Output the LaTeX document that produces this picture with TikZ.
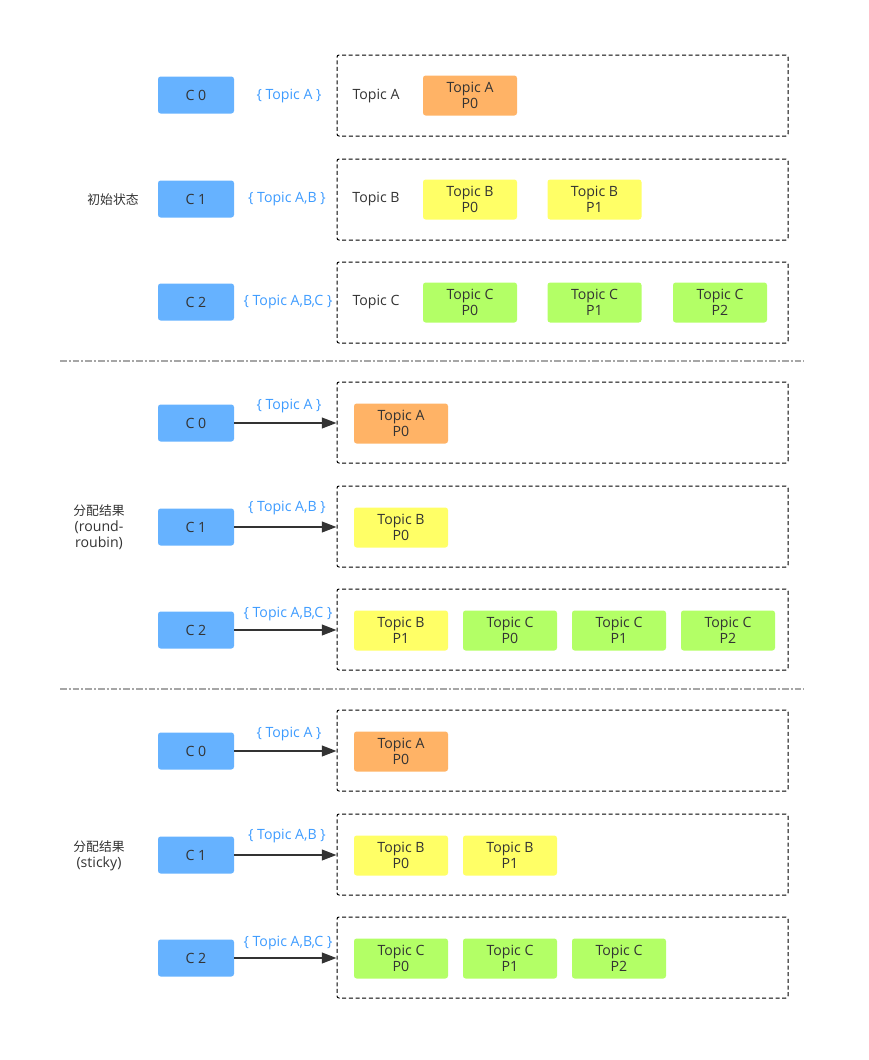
\documentclass[tikz,border=0pt]{standalone}
\usepackage{fontspec}
\setmainfont{Open Sans}
\newfontfamily\cjkfam{Noto Sans CJK SC}
\newcommand{\cjk}{\cjkfam\fontsize{9.6}{12}\selectfont}
\usetikzlibrary{arrows.meta}
\definecolor{cblue}{HTML}{66B2FF}
\definecolor{torange}{HTML}{FFB366}
\definecolor{tyellow}{HTML}{FFFF66}
\definecolor{tgreen}{HTML}{B3FF66}
\definecolor{lblue}{HTML}{3D9BFF}
\definecolor{txt}{HTML}{333333}
\tikzset{
  base/.style={font=\fontsize{10.6}{12}\selectfont, text=txt, align=center, inner sep=0pt},
  cbox/.style={base, fill=cblue, rounded corners=2pt, minimum width=57pt, minimum height=27.75pt},
  pbox/.style={base, rounded corners=2pt, minimum width=70.5pt, minimum height=30pt},
  pa/.style={pbox, fill=torange},
  pb/.style={pbox, fill=tyellow},
  pc/.style={pbox, fill=tgreen},
  cont/.style={draw=black, dash pattern=on 3pt off 2pt, line width=0.75pt, rounded corners=1.5pt, minimum width=338.25pt, minimum height=60.75pt, inner sep=0pt},
  tlab/.style={base, text=lblue},
  plain/.style={base},
  sep/.style={draw=black!35, line width=0.9pt, dash pattern=on 5pt off 1.5pt on 1.5pt off 1.5pt},
  arr/.style={draw=txt, line width=1.5pt, -{Triangle[length=11pt,width=8pt]}}
}
\begin{document}
\begin{tikzpicture}[x=0.75pt,y=-0.75pt]
\useasboundingbox (0,0) rectangle (868,1060);
% ---------- section 1 ----------
\node[cont] (k1a) at (562.5,95.5) {};
\node[cont] (k1b) at (562.5,199.5) {};
\node[cont] (k1c) at (562.5,302.5) {};
\node[cbox] (c1a) at (196,95) {C 0};
\node[cbox] (c1b) at (196,199) {C 1};
\node[cbox] (c1c) at (196,302) {C 2};
\node[tlab] (t1a) at (289,96.5) {\{ Topic A \}};
\node[tlab] (t1b) at (287,199.5) {\{ Topic A,B \}};
\node[tlab] (t1c) at (288,302.5) {\{ Topic A,B,C \}};
\node[plain] (n1a) at (376,96.5) {Topic A};
\node[plain] (n1b) at (376,199.5) {Topic B};
\node[plain] (n1c) at (376,302.5) {Topic C};
\node[plain] (s1) at (113,199.5) {\cjk 初始状态};
\node[pa] (p1a0) at (470,95.5) {Topic A\\P0};
\node[pb] (p1b0) at (470,199.5) {Topic B\\P0};
\node[pb] (p1b1) at (594.5,199.5) {Topic B\\P1};
\node[pc] (p1c0) at (470,302.5) {Topic C\\P0};
\node[pc] (p1c1) at (594.5,302.5) {Topic C\\P1};
\node[pc] (p1c2) at (720,302.5) {Topic C\\P2};
\coordinate (sa1) at (60,361);
\coordinate (sa2) at (804,361);
\draw[sep] (sa1) -- (sa2);
% ---------- section 2 ----------
\node[cont] (k2a) at (562.5,422.5) {};
\node[cont] (k2b) at (562.5,526.5) {};
\node[cont] (k2c) at (562.5,629.5) {};
\node[cbox] (c2a) at (196,423) {C 0};
\node[cbox] (c2b) at (196,527) {C 1};
\node[cbox] (c2c) at (196,630) {C 2};
\draw[arr] (c2a.east) -- (k2a.west |- c2a.east);
\draw[arr] (c2b.east) -- (k2b.west |- c2b.east);
\draw[arr] (c2c.east) -- (k2c.west |- c2c.east);
\node[tlab] (t2a) at (289,406.5) {\{ Topic A \}};
\node[tlab] (t2b) at (287,508.5) {\{ Topic A,B \}};
\node[tlab] (t2c) at (288,614.5) {\{ Topic A,B,C \}};
\node[plain] (s2) at (99,527.5) {{\cjk 分配结果}\\(round-\\roubin)};
\node[pa] (p2a0) at (401,423.5) {Topic A\\P0};
\node[pb] (p2b0) at (401,527.5) {Topic B\\P0};
\node[pb] (p2b1) at (401,630.5) {Topic B\\P1};
\node[pc] (p2c0) at (510,630.5) {Topic C\\P0};
\node[pc] (p2c1) at (619,630.5) {Topic C\\P1};
\node[pc] (p2c2) at (728,630.5) {Topic C\\P2};
\coordinate (sb1) at (60,689);
\coordinate (sb2) at (804,689);
\draw[sep] (sb1) -- (sb2);
% ---------- section 3 ----------
\node[cont] (k3a) at (562.5,750.5) {};
\node[cont] (k3b) at (562.5,854.5) {};
\node[cont] (k3c) at (562.5,957.5) {};
\node[cbox] (c3a) at (196,751) {C 0};
\node[cbox] (c3b) at (196,855) {C 1};
\node[cbox] (c3c) at (196,958) {C 2};
\draw[arr] (c3a.east) -- (k3a.west |- c3a.east);
\draw[arr] (c3b.east) -- (k3b.west |- c3b.east);
\draw[arr] (c3c.east) -- (k3c.west |- c3c.east);
\node[tlab] (t3a) at (289,734.5) {\{ Topic A \}};
\node[tlab] (t3b) at (287,836.5) {\{ Topic A,B \}};
\node[tlab] (t3c) at (288,942.5) {\{ Topic A,B,C \}};
\node[plain] (s3) at (99,855.5) {{\cjk 分配结果}\\(sticky)};
\node[pa] (p3a0) at (401,751.5) {Topic A\\P0};
\node[pb] (p3b0) at (401,855.5) {Topic B\\P0};
\node[pb] (p3b1) at (510,855.5) {Topic B\\P1};
\node[pc] (p3c0) at (401,958.5) {Topic C\\P0};
\node[pc] (p3c1) at (510,958.5) {Topic C\\P1};
\node[pc] (p3c2) at (619,958.5) {Topic C\\P2};
\end{tikzpicture}
\end{document}
